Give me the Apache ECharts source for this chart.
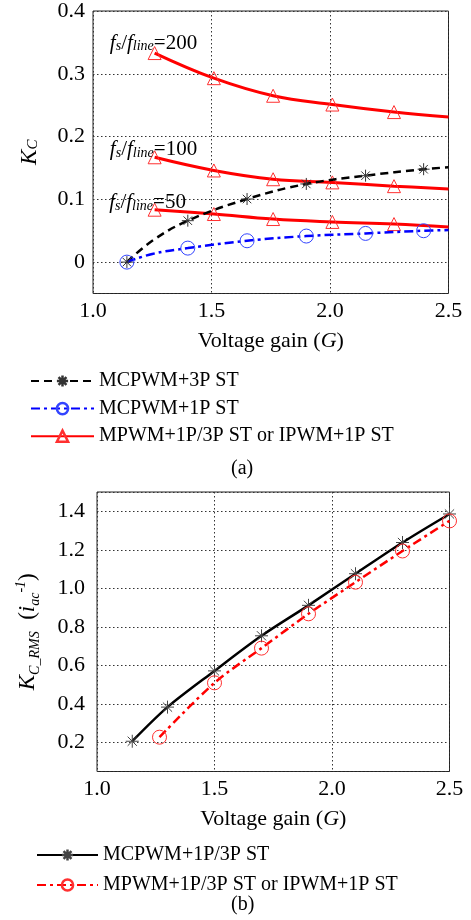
<!DOCTYPE html>
<html><head><meta charset="utf-8">
<script src="https://cdn.jsdelivr.net/npm/echarts@6/dist/echarts.min.js"></script>
<style>html,body{margin:0;padding:0;background:#fff}#c{width:471px;height:920px}</style>
</head><body><div id="c"></div>
<script>
// ---------- data: chart (a) ----------
const gainTicks = [1.0, 1.5, 2.0, 2.5];
const kcTicks = [0, 0.1, 0.2, 0.3, 0.4];
const kcRmsTicks = [0.2, 0.4, 0.6, 0.8, 1.0, 1.2, 1.4];

const gainA = [1.143, 1.25, 1.40, 1.65, 1.90, 2.15, 2.395, 2.5];
const kcMcpwm3p = [0, 0.034, 0.066, 0.1005, 0.1245, 0.1377, 0.148, 0.151];
const kcMcpwm1p = [0, 0.013, 0.0223, 0.034, 0.0415, 0.0457, 0.050, 0.051];
const markA = [1, 0, 1, 1, 1, 1, 1, 0];

const gainR = [1.26, 1.51, 1.76, 2.01, 2.27, 2.5];
const kcR200 = [0.333, 0.293, 0.265, 0.251, 0.239, 0.231];
const kcR100 = [0.167, 0.146, 0.132, 0.127, 0.121, 0.1165];
const kcR50 = [0.0835, 0.0766, 0.0686, 0.064, 0.0606, 0.056];
const markR = [1, 1, 1, 1, 1, 0];

const ratioLabels = ['200', '100', '50'];
const ratioLabelPos = [[1.069, 0.353], [1.069, 0.183], [1.066, 0.099]];

// ---------- data: chart (b) ----------
const gainB1 = [1.15, 1.3, 1.5, 1.7, 1.9, 2.1, 2.3, 2.5];
const kcRmsMcpwm = [0.207, 0.384, 0.572, 0.754, 0.912, 1.076, 1.238, 1.386];
const gainB2 = [1.266, 1.5, 1.7, 1.9, 2.1, 2.3, 2.5];
const kcRmsMpwm = [0.228, 0.51, 0.69, 0.868, 1.032, 1.194, 1.35];

const names = {
  a1: 'MCPWM+3P ST',
  a2: 'MCPWM+1P ST',
  a3: 'MPWM+1P/3P ST or IPWM+1P ST',
  b1: 'MCPWM+1P/3P ST',
  b2: 'MPWM+1P/3P ST or IPWM+1P ST '
};

// ---------- build ----------
const FONT = 'Liberation Serif';
const STAR = 'path://M0,-10L0,10M-10,0L10,0M-7.07,-7.07L7.07,7.07M-7.07,7.07L7.07,-7.07';
function pts(xs, ys, marks) {
  return xs.map((x, i) => {
    const d = { value: [x, ys[i]] };
    if (marks && !marks[i]) d.symbol = 'none';
    return d;
  });
}
const tickSet = (ticks) => (v) => ticks.some(t => Math.abs(t - v) < 1e-6);
function fmtY(ticks) {
  const ok = tickSet(ticks);
  return (v) => ok(v) ? (Math.abs(v) < 1e-9 ? '0' : v.toFixed(1)) : '';
}
const axisText = { fontFamily: FONT, fontSize: 22, color: '#000' };
const dotted = { show: true, lineStyle: { color: '#333', type: [1.5, 2.5], width: 1 } };

const subRich = {
  n: { fontFamily: FONT, fontSize: 21, color: '#000', lineHeight: 26, verticalAlign: 'bottom' },
  f: { fontFamily: FONT, fontSize: 21, fontStyle: 'italic', color: '#000', lineHeight: 26, verticalAlign: 'bottom' },
  s: { fontFamily: FONT, fontSize: 14, fontStyle: 'italic', color: '#000', lineHeight: 20, verticalAlign: 'bottom' }
};

const redLine = { color: '#ff0000', width: 3, type: 'solid' };
const redItem = { color: 'transparent', borderColor: '#ff3030', borderWidth: 1 };
const redSeries = [kcR200, kcR100, kcR50].map((ys, k) => ({
  name: names.a3, type: 'line', xAxisIndex: 0, yAxisIndex: 0,
  data: pts(gainR, ys, markR), smooth: 0.4,
  symbol: 'triangle', symbolSize: 13,
  lineStyle: redLine, itemStyle: redItem, z: 3,
  markPoint: {
    symbol: 'circle', symbolSize: 1, itemStyle: { color: 'transparent' },
    data: [{ coord: ratioLabelPos[k] }],
    label: {
      show: true, position: 'right', distance: 0,
      formatter: '{f|f}{s|s}{n|/}{f|f}{s|line}{n|=' + ratioLabels[k] + '}',
      rich: subRich
    }
  }
}));

const option = {
  animation: false,
  backgroundColor: '#fff',
  grid: [
    { left: 93, top: 11, width: 355.5, height: 282.5, show: true, borderColor: '#222', borderWidth: 1, containLabel: false },
    { left: 97, top: 492, width: 352.5, height: 279.5, show: true, borderColor: '#222', borderWidth: 1, containLabel: false }
  ],
  xAxis: [0, 1].map(i => ({
    type: 'value', gridIndex: i, min: 1.0, max: 2.5, interval: 0.5,
    axisLine: { show: false }, axisTick: { show: false },
    axisLabel: Object.assign({ margin: 7, formatter: v => v.toFixed(1) }, axisText),
    splitLine: dotted,
    name: 'Voltage gain ({i|G})', nameLocation: 'middle', nameGap: 37,
    nameTextStyle: {
      fontFamily: FONT, fontSize: 22, color: '#000',
      rich: { i: { fontFamily: FONT, fontSize: 22, fontStyle: 'italic', color: '#000' } }
    }
  })),
  yAxis: [
    {
      type: 'value', gridIndex: 0, min: -0.05, max: 0.4, splitNumber: 5,
      axisLine: { show: false }, axisTick: { show: false },
      axisLabel: Object.assign({ margin: 8, formatter: fmtY(kcTicks), showMinLabel: false }, axisText),
      splitLine: dotted,
      name: '{k|K}{c|C}', nameLocation: 'middle', nameRotate: 90, nameGap: 52,
      nameTextStyle: {
        rich: {
          k: { fontFamily: FONT, fontSize: 23, fontStyle: 'italic', color: '#000', lineHeight: 26, verticalAlign: 'bottom' },
          c: { fontFamily: FONT, fontSize: 15, fontStyle: 'italic', color: '#000', lineHeight: 20, verticalAlign: 'bottom' }
        }
      }
    },
    {
      type: 'value', gridIndex: 1, min: 0.05, max: 1.5, splitNumber: 7,
      axisLine: { show: false }, axisTick: { show: false },
      axisLabel: Object.assign({ margin: 12, formatter: fmtY(kcRmsTicks), showMinLabel: false, showMaxLabel: false }, axisText),
      splitLine: dotted,
      name: '{k|K}{c|C_RMS}{n|  (}{k|i}{c|ac}{sup|-1}{n|)}', nameLocation: 'middle', nameRotate: 90, nameGap: 55,
      nameTextStyle: {
        rich: {
          k: { fontFamily: FONT, fontSize: 23, fontStyle: 'italic', color: '#000', lineHeight: 28, verticalAlign: 'middle' },
          n: { fontFamily: FONT, fontSize: 23, color: '#000', lineHeight: 28, verticalAlign: 'middle' },
          c: { fontFamily: FONT, fontSize: 14, fontStyle: 'italic', color: '#000', lineHeight: 14, verticalAlign: 'bottom' },
          sup: { fontFamily: FONT, fontSize: 14, fontStyle: 'italic', color: '#000', lineHeight: 14, verticalAlign: 'top' }
        }
      }
    }
  ],
  legend: [
    {
      left: 25, top: 366, orient: 'vertical', itemWidth: 63, itemHeight: 14, itemGap: 7.6,
      data: [names.a1, names.a2, names.a3],
      textStyle: { fontFamily: FONT, fontSize: 20, color: '#000' },
      itemStyle: { borderWidth: 2.5 }
    },
    {
      left: 31, top: 840, orient: 'vertical', itemWidth: 61, itemHeight: 14, itemGap: 10,
      data: [names.b1, names.b2],
      textStyle: { fontFamily: FONT, fontSize: 20, color: '#000' },
      itemStyle: { borderWidth: 2.5 }
    }
  ],
  graphic: [
    { type: 'text', left: 231, top: 459, style: { text: '(a)', fontFamily: FONT, fontSize: 20, fill: '#000' } },
    { type: 'text', left: 231, top: 895, style: { text: '(b)', fontFamily: FONT, fontSize: 20, fill: '#000' } }
  ],
  series: [
    {
      name: names.a1, type: 'line', xAxisIndex: 0, yAxisIndex: 0,
      data: pts(gainA, kcMcpwm3p, markA), smooth: 0.4,
      symbol: STAR, symbolSize: 12,
      lineStyle: { color: '#000', width: 2.5, type: [8, 5] },
      itemStyle: { color: 'transparent', borderColor: '#333', borderWidth: 1 }, z: 4
    },
    {
      name: names.a2, type: 'line', xAxisIndex: 0, yAxisIndex: 0,
      data: pts(gainA, kcMcpwm1p, markA), smooth: 0.4,
      symbol: 'circle', symbolSize: 14,
      lineStyle: { color: '#0000ff', width: 2.5, type: [9, 4, 3, 4] },
      itemStyle: { color: 'transparent', borderColor: '#3344ff', borderWidth: 1 }, z: 4
    },
    ...redSeries,
    {
      name: names.b1, type: 'line', xAxisIndex: 1, yAxisIndex: 1,
      data: pts(gainB1, kcRmsMcpwm), smooth: 0.3,
      symbol: STAR, symbolSize: 13,
      lineStyle: { color: '#000', width: 2.5, type: 'solid' },
      itemStyle: { color: 'transparent', borderColor: '#444', borderWidth: 1 }, z: 3
    },
    {
      name: names.b2, type: 'line', xAxisIndex: 1, yAxisIndex: 1,
      data: pts(gainB2, kcRmsMpwm), smooth: 0.3,
      symbol: 'circle', symbolSize: 14,
      lineStyle: { color: '#ff0000', width: 2.5, type: [9, 4, 3, 4] },
      itemStyle: { color: 'transparent', borderColor: '#ff3030', borderWidth: 1 }, z: 4
    }
  ]
};
const chart = echarts.init(document.getElementById('c'), null, { renderer: 'canvas' });
chart.setOption(option);
</script></body></html>
